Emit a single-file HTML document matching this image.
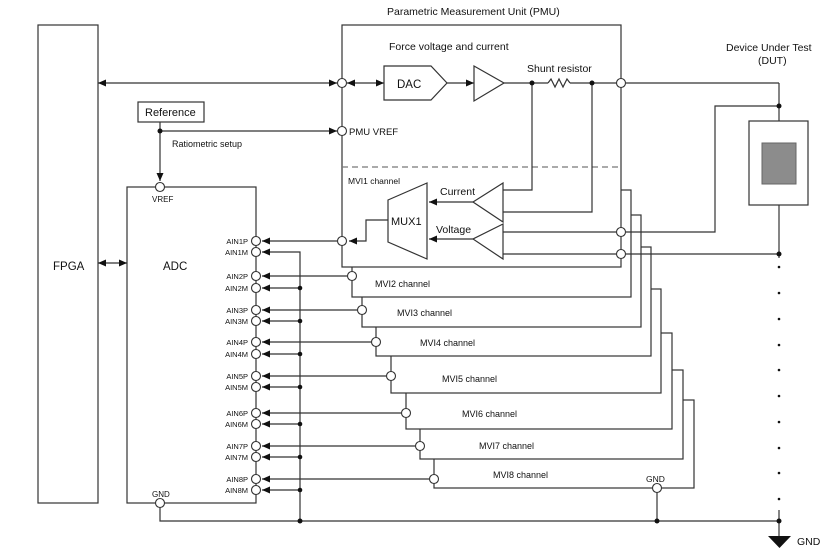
<!DOCTYPE html>
<html><head><meta charset="utf-8"><style>
html,body{margin:0;padding:0;background:#fff;}
svg{display:block;font-family:"Liberation Sans",sans-serif;}
</style></head><body>
<svg width="835" height="552" viewBox="0 0 835 552" xmlns="http://www.w3.org/2000/svg">
<defs>
<marker id="a" markerUnits="userSpaceOnUse" markerWidth="9" markerHeight="8" refX="8" refY="3.5" orient="auto-start-reverse"><path d="M0,0 L8,3.5 L0,7 z" fill="#111"/></marker>
</defs>
<g stroke="#333" stroke-width="1.2" fill="none">
<!-- FPGA -->
<rect x="38" y="25" width="60" height="478" fill="#fff"/>
<!-- channel boxes 8..2 -->
<rect x="434" y="400" width="260" height="88" fill="#fff"/>
<rect x="420" y="370" width="263" height="89" fill="#fff"/>
<rect x="406" y="333" width="266" height="96" fill="#fff"/>
<rect x="391" y="289" width="270" height="104" fill="#fff"/>
<rect x="376" y="247" width="275" height="109" fill="#fff"/>
<rect x="362" y="215" width="279" height="112" fill="#fff"/>
<rect x="352" y="190" width="279" height="107" fill="#fff"/>
<!-- PMU -->
<rect x="342" y="25" width="279" height="242" fill="#fff"/>
<line x1="342" y1="167" x2="621" y2="167" stroke="#777" stroke-dasharray="6,4"/>
<!-- ADC -->
<rect x="127" y="187" width="129" height="316" fill="#fff"/>
<!-- Reference -->
<rect x="138" y="102" width="66" height="20" fill="#fff"/>
<line x1="160" y1="122" x2="160" y2="181" marker-end="url(#a)"/>
<line x1="160" y1="131" x2="337" y2="131" marker-end="url(#a)"/>
<!-- FPGA arrows -->
<line x1="98" y1="83" x2="337" y2="83" marker-start="url(#a)" marker-end="url(#a)"/>
<line x1="98" y1="263" x2="127" y2="263" marker-start="url(#a)" marker-end="url(#a)"/>
<line x1="347" y1="83" x2="384" y2="83" marker-start="url(#a)" marker-end="url(#a)"/>
<!-- DAC -->
<path d="M384,66 L431,66 L447,83 L431,100 L384,100 Z" fill="#fff"/>
<line x1="447" y1="83" x2="474" y2="83" marker-end="url(#a)"/>
<path d="M474,66 L504,83 L474,101 Z" fill="#fff"/>
<line x1="504" y1="83" x2="548" y2="83"/>
<path d="M548,83 l3,-4 l4,8 l4,-8 l4,8 l4,-8 l3,4"/>
<line x1="570" y1="83" x2="616" y2="83"/>
<line x1="626" y1="83" x2="779" y2="83"/>
<line x1="779" y1="83" x2="779" y2="121"/>
<!-- current sense -->
<polyline points="532,83 532,190 503,190"/>
<polyline points="592,83 592,212 503,212"/>
<path d="M503,183 L473,202 L503,222 Z" fill="#fff"/>
<line x1="473" y1="202" x2="429" y2="202" marker-end="url(#a)"/>
<!-- voltage sense -->
<path d="M503,224 L473,239 L503,259 Z" fill="#fff"/>
<line x1="473" y1="239" x2="429" y2="239" marker-end="url(#a)"/>
<line x1="503" y1="232" x2="616" y2="232"/>
<line x1="503" y1="254" x2="616" y2="254"/>
<polyline points="626,232 715,232 715,106 779,106"/>
<line x1="626" y1="254" x2="779" y2="254"/>
<line x1="779" y1="205" x2="779" y2="258"/>
<!-- MUX -->
<path d="M388,200 L427,183 L427,259 L388,242 Z" fill="#fff"/>
<polyline points="388,220 366,220 366,241 349,241" marker-end="url(#a)"/>
<!-- DUT -->
<rect x="749" y="121" width="59" height="84" fill="#fff"/>
<!-- AIN P lines -->
<line x1="337" y1="241" x2="262" y2="241" marker-end="url(#a)"/>
<line x1="347" y1="276" x2="262" y2="276" marker-end="url(#a)"/>
<line x1="357" y1="310" x2="262" y2="310" marker-end="url(#a)"/>
<line x1="371" y1="342" x2="262" y2="342" marker-end="url(#a)"/>
<line x1="386" y1="376" x2="262" y2="376" marker-end="url(#a)"/>
<line x1="401" y1="413" x2="262" y2="413" marker-end="url(#a)"/>
<line x1="415" y1="446" x2="262" y2="446" marker-end="url(#a)"/>
<line x1="429" y1="479" x2="262" y2="479" marker-end="url(#a)"/>
<!-- AIN M lines -->
<polyline points="300,521 300,252 262,252" marker-end="url(#a)"/>
<line x1="300" y1="288" x2="262" y2="288" marker-end="url(#a)"/>
<line x1="300" y1="321" x2="262" y2="321" marker-end="url(#a)"/>
<line x1="300" y1="354" x2="262" y2="354" marker-end="url(#a)"/>
<line x1="300" y1="387" x2="262" y2="387" marker-end="url(#a)"/>
<line x1="300" y1="424" x2="262" y2="424" marker-end="url(#a)"/>
<line x1="300" y1="457" x2="262" y2="457" marker-end="url(#a)"/>
<line x1="300" y1="490" x2="262" y2="490" marker-end="url(#a)"/>
<!-- GND bus -->
<polyline points="160,503 160,521 779,521"/>
<line x1="657" y1="488" x2="657" y2="521"/>
<line x1="779" y1="510" x2="779" y2="536"/>
</g>
<rect x="762" y="143" width="34" height="41" fill="#8c8c8c" stroke="#666"/>
<path d="M768,536 L791,536 L779.5,548 Z" fill="#111"/>
<!-- circles -->
<g fill="#fff" stroke="#333" stroke-width="1.1">
<circle cx="342" cy="83" r="4.5"/><circle cx="342" cy="131" r="4.5"/><circle cx="342" cy="241" r="4.5"/>
<circle cx="621" cy="83" r="4.5"/><circle cx="621" cy="232" r="4.5"/><circle cx="621" cy="254" r="4.5"/>
<circle cx="160" cy="187" r="4.5"/><circle cx="160" cy="503" r="4.5"/>
<circle cx="352" cy="276" r="4.5"/><circle cx="362" cy="310" r="4.5"/><circle cx="376" cy="342" r="4.5"/>
<circle cx="391" cy="376" r="4.5"/><circle cx="406" cy="413" r="4.5"/><circle cx="420" cy="446" r="4.5"/>
<circle cx="434" cy="479" r="4.5"/><circle cx="657" cy="488" r="4.5"/>
<circle cx="256" cy="241" r="4.5"/><circle cx="256" cy="252" r="4.5"/>
<circle cx="256" cy="276" r="4.5"/><circle cx="256" cy="288" r="4.5"/>
<circle cx="256" cy="310" r="4.5"/><circle cx="256" cy="321" r="4.5"/>
<circle cx="256" cy="342" r="4.5"/><circle cx="256" cy="354" r="4.5"/>
<circle cx="256" cy="376" r="4.5"/><circle cx="256" cy="387" r="4.5"/>
<circle cx="256" cy="413" r="4.5"/><circle cx="256" cy="424" r="4.5"/>
<circle cx="256" cy="446" r="4.5"/><circle cx="256" cy="457" r="4.5"/>
<circle cx="256" cy="479" r="4.5"/><circle cx="256" cy="490" r="4.5"/>
</g>
<!-- dots -->
<g fill="#111">
<circle cx="532" cy="83" r="2.5"/><circle cx="592" cy="83" r="2.5"/><circle cx="160" cy="131" r="2.5"/>
<circle cx="779" cy="106" r="2.5"/><circle cx="779" cy="254" r="2.5"/><circle cx="779" cy="521" r="2.5"/>
<circle cx="657" cy="521" r="2.5"/><circle cx="300" cy="521" r="2.5"/>
<circle cx="300" cy="288" r="2.3"/><circle cx="300" cy="321" r="2.3"/><circle cx="300" cy="354" r="2.3"/>
<circle cx="300" cy="387" r="2.3"/><circle cx="300" cy="424" r="2.3"/><circle cx="300" cy="457" r="2.3"/>
<circle cx="300" cy="490" r="2.3"/>
<circle cx="779" cy="267" r="1.3"/><circle cx="779" cy="293" r="1.3"/><circle cx="779" cy="319" r="1.3"/>
<circle cx="779" cy="345" r="1.3"/><circle cx="779" cy="370" r="1.3"/><circle cx="779" cy="396" r="1.3"/>
<circle cx="779" cy="422" r="1.3"/><circle cx="779" cy="448" r="1.3"/><circle cx="779" cy="473" r="1.3"/>
<circle cx="779" cy="499" r="1.3"/>
</g>
<!-- text -->
<g fill="#111" font-size="10.5">
<text x="387" y="15">Parametric Measurement Unit (PMU)</text>
<text x="389" y="50">Force voltage and current</text>
<text x="397" y="88" font-size="11.5">DAC</text>
<text x="527" y="72">Shunt resistor</text>
<text x="349" y="135" font-size="9.5">PMU VREF</text>
<text x="348" y="184" font-size="8.5">MVI1 channel</text>
<text x="440" y="195">Current</text>
<text x="436" y="233">Voltage</text>
<text x="391" y="225" font-size="11">MUX1</text>
<text x="145" y="116" font-size="11">Reference</text>
<text x="172" y="147" font-size="9">Ratiometric setup</text>
<text x="152" y="202" font-size="8">VREF</text>
<text x="53" y="270" font-size="11.5">FPGA</text>
<text x="163" y="270" font-size="11.5">ADC</text>
<text x="152" y="497" font-size="8">GND</text>
<text x="726" y="51">Device Under Test</text>
<text x="758" y="64">(DUT)</text>
<text x="646" y="482" font-size="8.5">GND</text>
<text x="797" y="545">GND</text>
<g font-size="9">
<text x="375" y="287">MVI2 channel</text>
<text x="397" y="316">MVI3 channel</text>
<text x="420" y="346">MVI4 channel</text>
<text x="442" y="382">MVI5 channel</text>
<text x="462" y="417">MVI6 channel</text>
<text x="479" y="449">MVI7 channel</text>
<text x="493" y="478">MVI8 channel</text>
</g>
<g font-size="7.5" text-anchor="end">
<text x="248" y="244">AIN1P</text><text x="248" y="255">AIN1M</text>
<text x="248" y="279">AIN2P</text><text x="248" y="291">AIN2M</text>
<text x="248" y="313">AIN3P</text><text x="248" y="324">AIN3M</text>
<text x="248" y="345">AIN4P</text><text x="248" y="357">AIN4M</text>
<text x="248" y="379">AIN5P</text><text x="248" y="390">AIN5M</text>
<text x="248" y="416">AIN6P</text><text x="248" y="427">AIN6M</text>
<text x="248" y="449">AIN7P</text><text x="248" y="460">AIN7M</text>
<text x="248" y="482">AIN8P</text><text x="248" y="493">AIN8M</text>
</g>
</g>
</svg>
</body></html>
